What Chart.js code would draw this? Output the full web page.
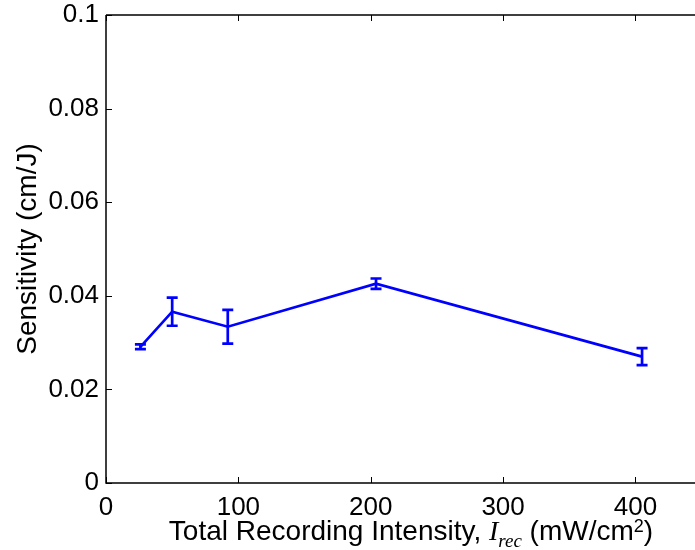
<!DOCTYPE html>
<html>
<head>
<meta charset="utf-8">
<script src="https://cdn.jsdelivr.net/npm/chart.js@4.4.0/dist/chart.umd.min.js"></script>
<style>
  html, body { margin: 0; padding: 0; background: #fff; overflow: hidden; }
  #wrap { width: 695px; height: 550px; }
</style>
</head>
<body>
<div id="wrap"><canvas id="grafico"></canvas></div>
<script>
// Datos
var intensidades = [26, 50, 92, 204, 405];
var sensibilidad = [0.0291, 0.0366, 0.0334, 0.0426, 0.0270];
var errores = [0.0005, 0.0030, 0.0036, 0.0011, 0.0018];
var ticksX = [0, 100, 200, 300, 400];
var ticksY = [0, 0.02, 0.04, 0.06, 0.08, 0.1];

var fuente = "'Liberation Sans', Arial, Helvetica, sans-serif";

var puntos = [];
for (var i = 0; i < intensidades.length; i++) {
    puntos.push({ x: intensidades[i], y: sensibilidad[i] });
}

// Ejes estilo matlab: caja con ticks hacia adentro + barras de error + titulo x
var ejesPlugin = {
    id: 'ejes',
    beforeDatasetsDraw: function (chart) {
        var ctx = chart.ctx, a = chart.chartArea;
        var sx = chart.scales.x, sy = chart.scales.y;
        ctx.save();
        ctx.strokeStyle = '#000';
        ctx.lineWidth = 1.5;
        ctx.beginPath();
        ctx.moveTo(a.left, a.top);
        ctx.lineTo(a.right, a.top);
        ctx.moveTo(a.left, a.top);
        ctx.lineTo(a.left, a.bottom);
        ctx.lineTo(a.right, a.bottom);
        ctx.stroke();
        ctx.lineWidth = 1;
        ctx.beginPath();
        ticksX.forEach(function (v) {
            var px = Math.round(sx.getPixelForValue(v)) + 0.5;
            ctx.moveTo(px, a.bottom);
            ctx.lineTo(px, a.bottom - 6);
            ctx.moveTo(px, a.top);
            ctx.lineTo(px, a.top + 6);
        });
        ticksY.forEach(function (v) {
            var py = Math.round(sy.getPixelForValue(v)) + 0.5;
            ctx.moveTo(a.left, py);
            ctx.lineTo(a.left + 6, py);
        });
        ctx.stroke();
        ctx.restore();
    },
    afterDatasetsDraw: function (chart) {
        var ctx = chart.ctx;
        var sx = chart.scales.x, sy = chart.scales.y;
        ctx.save();
        ctx.strokeStyle = '#0000ff';
        ctx.lineWidth = 2.7;
        ctx.beginPath();
        for (var i = 0; i < intensidades.length; i++) {
            var px = sx.getPixelForValue(intensidades[i]);
            var y1 = sy.getPixelForValue(sensibilidad[i] + errores[i]);
            var y2 = sy.getPixelForValue(sensibilidad[i] - errores[i]);
            ctx.moveTo(px, y1);
            ctx.lineTo(px, y2);
            ctx.moveTo(px - 5.5, y1);
            ctx.lineTo(px + 5.5, y1);
            ctx.moveTo(px - 5.5, y2);
            ctx.lineTo(px + 5.5, y2);
        }
        ctx.stroke();
        ctx.restore();
    },
    afterDraw: function (chart) {
        // titulo del eje x con I_rec en cursiva
        var ctx = chart.ctx;
        var partes = [
            { t: 'Total Recording Intensity, ', f: '28px ' + fuente, dy: 0 },
            { t: 'I', f: 'italic 28px "Liberation Serif", "Times New Roman", serif', dy: 0 },
            { t: 'rec', f: 'italic 19px "Liberation Serif", "Times New Roman", serif', dy: 7 },
            { t: ' (mW/cm', f: '28px ' + fuente, dy: 0 },
            { t: '2', f: '18px ' + fuente, dy: -8 },
            { t: ')', f: '28px ' + fuente, dy: 0 }
        ];
        ctx.save();
        var total = 0;
        partes.forEach(function (p) {
            ctx.font = p.f;
            p.w = ctx.measureText(p.t).width;
            total += p.w;
        });
        var x = 411 - total / 2, base = 540;
        ctx.fillStyle = '#000';
        ctx.textBaseline = 'alphabetic';
        partes.forEach(function (p) {
            ctx.font = p.f;
            ctx.fillText(p.t, x, base + p.dy);
            x += p.w;
        });
        ctx.restore();
    }
};

var datos = {
    datasets: [{
        data: puntos,
        borderColor: '#0000ff',
        backgroundColor: '#0000ff',
        borderWidth: 2.7,
        pointRadius: 0,
        tension: 0
    }]
};

var configuracion = {
    type: 'line',
    data: datos,
    options: {
        responsive: true,
        maintainAspectRatio: false,
        animation: false,
        layout: { padding: { top: 15, right: 0, left: 0, bottom: 0 } },
        plugins: {
            legend: { display: false },
            tooltip: { enabled: false }
        },
        scales: {
            x: {
                type: 'linear',
                min: 0,
                max: 445,
                grid: { display: false, drawTicks: false },
                border: { display: false },
                afterBuildTicks: function (s) {
                    s.ticks = ticksX.map(function (v) { return { value: v }; });
                },
                afterFit: function (s) {
                    s.height = 67;
                    s.paddingLeft = 0;
                    s.paddingRight = 0;
                },
                ticks: {
                    padding: 9,
                    color: '#000',
                    maxRotation: 0,
                    font: { family: fuente, size: 26 }
                }
            },
            y: {
                min: 0,
                max: 0.1,
                grid: { display: false, drawTicks: false },
                border: { display: false },
                afterBuildTicks: function (s) {
                    s.ticks = ticksY.map(function (v) { return { value: v }; });
                },
                afterFit: function (s) {
                    s.width = 106;
                    s.paddingTop = 0;
                    s.paddingBottom = 0;
                },
                title: {
                    display: true,
                    text: 'Sensitivity (cm/J)',
                    color: '#000',
                    padding: { top: 11, bottom: 0 },
                    font: { family: fuente, size: 28 }
                },
                ticks: {
                    padding: 7,
                    color: '#000',
                    font: { family: fuente, size: 26 },
                    callback: function (v) { return String(v); }
                }
            }
        }
    },
    plugins: [ejesPlugin]
};

var contexto = document.getElementById('grafico').getContext('2d');
var miGrafico = new Chart(contexto, configuracion);
</script>
</body>
</html>
